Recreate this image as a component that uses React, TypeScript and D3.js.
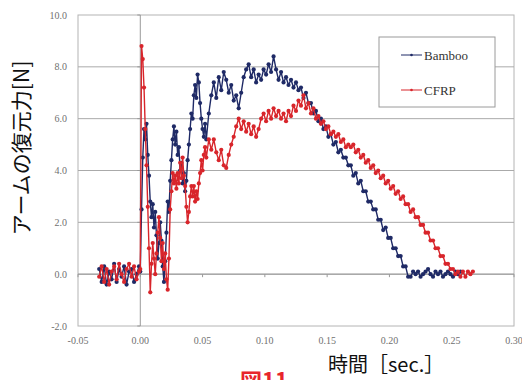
import * as d3 from "d3";

type Pt = [number, number];

// readings taken off the scanned figure (time [sec], force [N])
const bamboo: Pt[] = [
  [-0.033, 0.2], [-0.031, -0.3], [-0.029, 0.3], [-0.027, -0.4], [-0.025, 0.1], [-0.023, -0.2],
  [-0.021, 0.4], [-0.019, -0.3], [-0.017, 0.2], [-0.015, -0.1], [-0.013, 0.3], [-0.011, -0.4],
  [-0.009, 0.1], [-0.007, 0.2], [-0.005, -0.3], [-0.003, 0.0], [-0.001, 0.3],
  [0.0, 0.1], [0.001, 2.5], [0.002, 4.5], [0.003, 5.6], [0.004, 5.2], [0.005, 5.8], [0.006, 4.6],
  [0.007, 3.8], [0.008, 2.8], [0.009, 2.2], [0.01, 2.7], [0.011, 1.8], [0.012, 2.4], [0.013, 1.5],
  [0.014, 0.6], [0.015, 1.2], [0.016, 2.0], [0.017, 1.3], [0.018, 0.3], [0.019, -0.3], [0.02, 0.5],
  [0.021, 1.6], [0.022, 2.8], [0.023, 2.4], [0.024, 3.6], [0.025, 4.4], [0.026, 5.2], [0.027, 5.7],
  [0.028, 5.0], [0.029, 5.5], [0.03, 4.6], [0.031, 4.9], [0.032, 4.0], [0.033, 4.3], [0.034, 3.5],
  [0.035, 3.9], [0.036, 3.2], [0.037, 3.6], [0.038, 4.4], [0.039, 5.0], [0.04, 5.6], [0.041, 6.2],
  [0.042, 6.0], [0.043, 6.9], [0.044, 7.3], [0.045, 6.8], [0.046, 7.7], [0.047, 7.4], [0.048, 6.6],
  [0.049, 6.0], [0.05, 5.6], [0.051, 5.3], [0.052, 5.8], [0.053, 5.2],
  [0.055, 6.2], [0.057, 6.9], [0.059, 7.4], [0.061, 6.8], [0.063, 7.6], [0.065, 7.1], [0.067, 7.8],
  [0.069, 7.5], [0.071, 7.0], [0.073, 7.3], [0.075, 6.7], [0.077, 6.9], [0.079, 6.4], [0.081, 7.0],
  [0.083, 7.6], [0.085, 7.9], [0.087, 8.1], [0.089, 7.6], [0.091, 7.9], [0.093, 7.4], [0.095, 7.7],
  [0.097, 7.5], [0.099, 7.9], [0.101, 7.7], [0.103, 8.1], [0.105, 7.8], [0.107, 8.4], [0.109, 7.9],
  [0.111, 7.5], [0.113, 7.8], [0.115, 7.4], [0.117, 7.6], [0.119, 7.3], [0.121, 7.5], [0.123, 7.2],
  [0.125, 7.4], [0.127, 7.1], [0.129, 7.2], [0.131, 6.8], [0.133, 7.0], [0.135, 6.6], [0.137, 6.6],
  [0.139, 6.2], [0.141, 6.3], [0.143, 5.9], [0.145, 6.0], [0.147, 5.6], [0.149, 5.7], [0.151, 5.3],
  [0.153, 5.4], [0.155, 5.0], [0.157, 5.1], [0.159, 4.7], [0.161, 4.8], [0.163, 4.5], [0.165, 4.5],
  [0.167, 4.2], [0.169, 4.2], [0.171, 3.8], [0.173, 3.9], [0.175, 3.5], [0.177, 3.6], [0.179, 3.2],
  [0.181, 3.2], [0.183, 2.8], [0.185, 2.8], [0.187, 2.5], [0.189, 2.5], [0.191, 2.1], [0.193, 2.1],
  [0.195, 1.7], [0.197, 1.8], [0.199, 1.4], [0.201, 1.4], [0.203, 1.0], [0.205, 1.0], [0.207, 0.7],
  [0.209, 0.7], [0.211, 0.3], [0.213, 0.3], [0.215, -0.1], [0.217, -0.1], [0.219, 0.1], [0.221, 0.0],
  [0.223, 0.1], [0.225, -0.1], [0.227, 0.0], [0.229, 0.1], [0.231, 0.2], [0.233, 0.0], [0.235, -0.1],
  [0.237, 0.1], [0.239, 0.0], [0.241, 0.1], [0.243, -0.1], [0.245, 0.0], [0.247, 0.1], [0.249, 0.0],
  [0.251, -0.1], [0.253, 0.1], [0.255, 0.0], [0.257, 0.1],
];

const cfrp: Pt[] = [
  [-0.033, -0.1], [-0.031, 0.3], [-0.029, -0.3], [-0.027, 0.2], [-0.025, -0.4], [-0.023, 0.1],
  [-0.021, 0.3], [-0.019, -0.2], [-0.017, 0.4], [-0.015, 0.0], [-0.013, -0.3], [-0.011, 0.2],
  [-0.009, 0.4], [-0.007, -0.1], [-0.005, 0.3], [-0.003, -0.2], [-0.001, 0.1],
  [0.0, 0.2], [0.001, 8.8], [0.002, 8.3], [0.003, 7.2], [0.004, 5.6], [0.005, 4.2], [0.006, 2.6],
  [0.007, 1.0], [0.008, -0.7], [0.009, 0.4], [0.01, 1.2], [0.011, 0.6], [0.012, 0.0], [0.013, 0.8],
  [0.014, 1.6], [0.015, 2.2], [0.016, 1.4], [0.017, 0.5], [0.018, 1.2], [0.019, 0.2], [0.02, 0.8],
  [0.021, -0.2], [0.022, -0.6], [0.023, 0.6], [0.024, 2.5], [0.025, 3.2], [0.026, 3.9], [0.027, 3.5],
  [0.028, 3.8], [0.029, 3.3], [0.03, 3.9], [0.031, 3.5], [0.032, 4.3], [0.033, 3.7], [0.034, 4.5],
  [0.035, 3.8], [0.036, 3.4], [0.037, 2.6], [0.038, 2.0], [0.039, 2.4], [0.04, 3.0], [0.041, 3.4],
  [0.042, 3.0], [0.043, 3.4], [0.044, 2.8], [0.045, 3.2], [0.046, 2.9], [0.047, 3.5], [0.048, 3.9],
  [0.049, 4.4], [0.05, 4.0], [0.051, 4.6], [0.052, 4.9], [0.053, 4.5],
  [0.055, 5.2], [0.057, 4.8], [0.059, 5.2], [0.061, 4.7], [0.063, 4.4], [0.065, 4.8], [0.067, 4.2],
  [0.069, 4.1], [0.071, 4.6], [0.073, 5.0], [0.075, 5.3], [0.077, 5.7], [0.079, 6.0], [0.081, 5.6],
  [0.083, 5.9], [0.085, 5.5], [0.087, 5.8], [0.089, 5.4], [0.091, 5.7], [0.093, 5.3], [0.095, 5.6],
  [0.097, 6.0], [0.099, 6.2], [0.101, 5.9], [0.103, 6.3], [0.105, 6.0], [0.107, 6.4], [0.109, 6.1],
  [0.111, 6.3], [0.113, 6.0], [0.115, 6.2], [0.117, 5.9], [0.119, 6.3], [0.121, 6.1], [0.123, 6.5],
  [0.125, 6.3], [0.127, 6.7], [0.129, 6.5], [0.131, 6.9], [0.133, 6.4], [0.135, 6.6], [0.137, 6.2],
  [0.139, 6.4], [0.141, 6.0], [0.143, 6.1], [0.145, 5.8], [0.147, 5.9], [0.149, 5.6], [0.151, 5.7],
  [0.153, 5.4], [0.155, 5.5], [0.157, 5.3], [0.159, 5.4], [0.161, 5.1], [0.163, 5.2], [0.165, 4.9],
  [0.167, 5.0], [0.169, 4.9], [0.171, 5.0], [0.173, 4.7], [0.175, 4.8], [0.177, 4.5], [0.179, 4.6],
  [0.181, 4.3], [0.183, 4.4], [0.185, 4.1], [0.187, 4.2], [0.189, 3.9], [0.191, 4.0], [0.193, 3.7],
  [0.195, 3.8], [0.197, 3.5], [0.199, 3.6], [0.201, 3.3], [0.203, 3.4], [0.205, 3.1], [0.207, 3.2],
  [0.209, 2.9], [0.211, 3.0], [0.213, 2.7], [0.215, 2.7], [0.217, 2.4], [0.219, 2.5], [0.221, 2.2],
  [0.223, 2.2], [0.225, 1.9], [0.227, 1.9], [0.229, 1.6], [0.231, 1.6], [0.233, 1.3], [0.235, 1.3],
  [0.237, 1.0], [0.239, 1.0], [0.241, 0.7], [0.243, 0.7], [0.245, 0.4], [0.247, 0.4], [0.249, 0.2],
  [0.251, 0.2], [0.253, 0.0], [0.255, 0.1], [0.257, -0.1], [0.259, 0.1], [0.261, -0.1], [0.263, 0.1],
  [0.265, 0.0], [0.267, 0.1],
];

const seriesNames = ["Bamboo", "CFRP"];
const seriesColors = ["#1f2a66", "#d8252b"];
const xTicks = [-0.05, 0, 0.05, 0.1, 0.15, 0.2, 0.25, 0.3];
const yTicks = [-2, 0, 2, 4, 6, 8, 10];

const W = 522;
const H = 380;

export default function App() {
  const x = d3.scaleLinear().domain([-0.05, 0.3]).range([78, 514]);
  const y = d3.scaleLinear().domain([-2, 10]).range([326, 15]);
  const line = d3.line<Pt>().x((d) => x(d[0])).y((d) => y(d[1]));
  // excel-style labels use a plain hyphen for negatives
  const fmtX = (v: number) => v.toFixed(2);
  const fmtY = (v: number) => v.toFixed(1);
  const series = [bamboo, cfrp];
  const serif = "'Liberation Serif', 'DejaVu Serif', serif";

  return (
    <svg
      width={W}
      height={H}
      style={{ position: "absolute", left: 0, top: 0, background: "#fff" }}
    >
      {/* plot frame + gridlines */}
      <rect x={x(-0.05)} y={y(10)} width={x(0.3) - x(-0.05)} height={y(-2) - y(10)} fill="#fff" stroke="#b4b4b4" />
      {yTicks.filter((v) => v > -2 && v < 10).map((v) => (
        <line key={v} x1={x(-0.05)} x2={x(0.3)} y1={y(v)} y2={y(v)} stroke="#aaaaaa" strokeWidth={1} />
      ))}
      {/* y axis at t = 0 */}
      <line x1={x(0)} x2={x(0)} y1={y(10)} y2={y(-2)} stroke="#999" />
      {yTicks.map((v) => (
        <line key={"yt" + v} x1={x(0) - 3} x2={x(0)} y1={y(v)} y2={y(v)} stroke="#999" />
      ))}
      {/* x axis at 0 N */}
      <line x1={x(-0.05)} x2={x(0.3)} y1={y(0)} y2={y(0)} stroke="#999" />
      {xTicks.map((t) => (
        <line key={"xt" + t} x1={x(t)} x2={x(t)} y1={y(0)} y2={y(0) + 3} stroke="#999" />
      ))}

      {yTicks.map((v) => (
        <text key={"yl" + v} x={67} y={y(v)} dy="0.35em" textAnchor="end" fontFamily={serif} fontSize={10} fill="#707070">
          {fmtY(v)}
        </text>
      ))}
      {xTicks.map((t) => (
        <text key={"xl" + t} x={x(t)} y={344} textAnchor="middle" fontFamily={serif} fontSize={10} fill="#707070">
          {fmtX(t)}
        </text>
      ))}

      {series.map((data, i) => (
        <g key={seriesNames[i]}>
          <path d={line(data) ?? ""} fill="none" stroke={seriesColors[i]} strokeWidth={1.4} strokeLinejoin="round" />
          {data.map((d, j) => (
            <circle key={j} cx={x(d[0])} cy={y(d[1])} r={2.1} fill={seriesColors[i]} />
          ))}
        </g>
      ))}

      {/* legend */}
      <rect x={379} y={37} width={116} height={70} fill="#fff" stroke="#9a9a9a" />
      {seriesNames.map((name, i) => (
        <g key={"lg" + name} transform={`translate(0,${55 + i * 35})`}>
          <line x1={401} x2={422} y1={0} y2={0} stroke={seriesColors[i]} strokeWidth={1} />
          <circle cx={411.5} cy={0} r={1.3} fill={seriesColors[i]} />
          <text x={424} y={0} dy="0.35em" fontFamily={serif} fontSize={13} fill="#333">
            {name}
          </text>
        </g>
      ))}

      {/* axis titles */}
      <text
        transform="translate(22,148) rotate(-90)"
        textAnchor="middle"
        dy="0.35em"
        fontFamily="'Noto Sans CJK JP', sans-serif"
        fontSize={21}
        fill="#111"
      >
        アームの復元力[N]
      </text>
      <text x={328} y={372} fontFamily="'Noto Sans CJK JP', sans-serif" fontSize={20} fill="#111">
        時間［sec.］
      </text>
      <text x={240} y={389} fontFamily="'Noto Sans CJK JP', sans-serif" fontSize={22} fontWeight={700} fill="#e8252b">
        図11
      </text>
    </svg>
  );
}
